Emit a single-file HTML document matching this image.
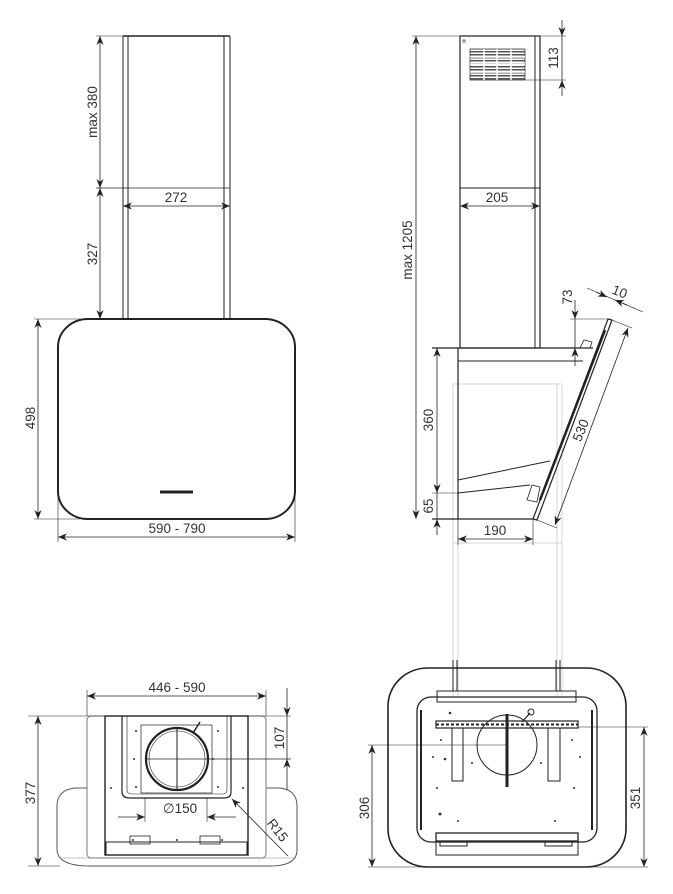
<!DOCTYPE html>
<html><head><meta charset="utf-8"><style>
html,body{margin:0;padding:0;background:#fff;}
svg{display:block;}
text{font-family:"Liberation Sans",sans-serif;font-size:13.5px;fill:#333;}
</style></head><body>
<svg width="673" height="894" viewBox="0 0 673 894" xmlns="http://www.w3.org/2000/svg">
<defs>
<marker id="a" viewBox="0 0 10 10" refX="10" refY="5" markerWidth="9" markerHeight="9" orient="auto-start-reverse" markerUnits="userSpaceOnUse">
<path d="M0,1 L10,5 L0,9 L3,5 Z" fill="#222"/>
</marker>
<pattern id="g" width="3" height="3" patternUnits="userSpaceOnUse"><rect width="3" height="3" fill="#fff"/><rect width="3" height="1.5" fill="#555"/></pattern>
</defs>
<g stroke="#222" fill="none" stroke-width="1">
<!-- LEFT TOP VIEW -->
<line x1="123" y1="36" x2="123" y2="319"/><line x1="128" y1="36" x2="128" y2="319"/>
<line x1="224" y1="36" x2="224" y2="319"/><line x1="230" y1="36" x2="230" y2="319"/>
<line x1="123" y1="36" x2="230" y2="36" stroke-width="1.5"/>
<line x1="96" y1="36" x2="123" y2="36" stroke-width="0.6"/>
<line x1="96" y1="188" x2="230" y2="188" stroke-width="0.8"/>
<rect x="58" y="319" width="237" height="200" rx="30" ry="28" stroke-width="2"/>
<line x1="160" y1="492" x2="193" y2="492" stroke-width="3"/>
<line x1="100" y1="36" x2="100" y2="188" marker-start="url(#a)" marker-end="url(#a)" stroke-width="0.8"/>
<line x1="100" y1="188" x2="100" y2="319" marker-start="url(#a)" marker-end="url(#a)" stroke-width="0.8"/>
<line x1="123" y1="206" x2="230" y2="206" marker-start="url(#a)" marker-end="url(#a)" stroke-width="0.8"/>
<line x1="34" y1="319" x2="80" y2="319" stroke-width="0.6"/>
<line x1="34" y1="519" x2="80" y2="519" stroke-width="0.6"/>
<line x1="38" y1="319" x2="38" y2="519" marker-start="url(#a)" marker-end="url(#a)" stroke-width="0.8"/>
<line x1="58" y1="480" x2="58" y2="542" stroke-width="0.6"/>
<line x1="295" y1="480" x2="295" y2="542" stroke-width="0.6"/>
<line x1="58" y1="537" x2="295" y2="537" marker-start="url(#a)" marker-end="url(#a)" stroke-width="0.8"/>

<!-- RIGHT TOP VIEW -->
<g stroke="#d4d4d4" stroke-width="1">
<line x1="453" y1="384" x2="453" y2="697"/><line x1="458" y1="519" x2="458" y2="697"/>
<line x1="557" y1="384" x2="557" y2="697"/><line x1="562" y1="384" x2="562" y2="697"/>
<line x1="453" y1="384" x2="562" y2="384"/>
<line x1="453" y1="543" x2="562" y2="543"/>
</g>
<rect x="460" y="36" width="80" height="312" stroke-width="1.2"/>
<line x1="535" y1="36" x2="535" y2="348"/>
<line x1="460" y1="188" x2="540" y2="188"/>
<g stroke-width="0.7">
<rect x="470" y="49" width="55" height="31" fill="url(#g)"/>
<line x1="484" y1="49" x2="484" y2="80" stroke="#fff" stroke-width="1.5"/><line x1="497" y1="49" x2="497" y2="80" stroke="#fff" stroke-width="1.5"/><line x1="511" y1="49" x2="511" y2="80" stroke="#fff" stroke-width="1.5"/>
<line x1="470" y1="57" x2="525" y2="57" stroke="#fff" stroke-width="1.5"/><line x1="470" y1="64" x2="525" y2="64" stroke="#fff" stroke-width="1.5"/><line x1="470" y1="72" x2="525" y2="72" stroke="#fff" stroke-width="1.5"/>
</g>
<circle cx="464" cy="41" r="1.2" stroke-width="0.6"/>
<line x1="412" y1="36" x2="566" y2="36" stroke-width="0.6"/>
<line x1="525" y1="80" x2="566" y2="80" stroke-width="0.6"/>
<line x1="562" y1="20" x2="562" y2="36" marker-end="url(#a)" stroke-width="0.8"/>
<line x1="562" y1="96" x2="562" y2="80" marker-end="url(#a)" stroke-width="0.8"/>
<line x1="562" y1="36" x2="562" y2="80" stroke-width="0.8"/>
<line x1="460" y1="206" x2="540" y2="206" marker-start="url(#a)" marker-end="url(#a)" stroke-width="0.8"/>
<line x1="432" y1="348" x2="593" y2="348" stroke-width="1.2"/>
<line x1="458" y1="361" x2="583" y2="361"/>
<line x1="458" y1="348" x2="458" y2="519" stroke-width="1.2"/>
<line x1="458" y1="480" x2="550" y2="461"/>
<line x1="458" y1="493" x2="530" y2="485"/>
<line x1="432" y1="519" x2="533" y2="519" stroke-width="1.2"/>
<path d="M608 319 L612 320 L537 520 L533 519 Z" stroke-width="1.2"/>
<line x1="605" y1="330" x2="540" y2="500" stroke-width="2.5"/>
<path d="M580 348 L584 340 L592 342 L590 348" stroke-width="0.8"/>
<path d="M527 500 L532 485 L540 487 L537 502 Z" stroke-width="0.8"/>
<line x1="416" y1="36" x2="416" y2="519" marker-start="url(#a)" marker-end="url(#a)" stroke-width="0.8"/>
<line x1="432" y1="493" x2="458" y2="493" stroke-width="0.6"/>
<line x1="437" y1="348" x2="437" y2="493" marker-start="url(#a)" marker-end="url(#a)" stroke-width="0.8"/>
<line x1="437" y1="535" x2="437" y2="519" marker-end="url(#a)" stroke-width="0.8"/>
<line x1="437" y1="519" x2="437" y2="493" stroke-width="0.8"/>
<line x1="458" y1="519" x2="458" y2="545" stroke-width="0.6"/>
<line x1="533" y1="519" x2="533" y2="545" stroke-width="0.6"/>
<line x1="458" y1="539" x2="533" y2="539" marker-start="url(#a)" marker-end="url(#a)" stroke-width="0.8"/>
<line x1="570" y1="319" x2="608" y2="319" stroke-width="0.6"/>
<line x1="575" y1="300" x2="575" y2="319" marker-end="url(#a)" stroke-width="0.8"/>
<line x1="575" y1="366" x2="575" y2="348" marker-end="url(#a)" stroke-width="0.8"/>
<line x1="575" y1="319" x2="575" y2="348" stroke-width="0.8"/>
<line x1="612" y1="320" x2="632" y2="328" stroke-width="0.6"/>
<line x1="537" y1="520" x2="557" y2="528" stroke-width="0.6"/>
<line x1="628" y1="328" x2="555" y2="525" marker-start="url(#a)" marker-end="url(#a)" stroke-width="0.8"/>
<line x1="587" y1="288" x2="643" y2="312" stroke-width="0.6"/>
<line x1="596" y1="292" x2="607" y2="297" marker-end="url(#a)" stroke-width="0.8"/>
<line x1="627" y1="305" x2="615" y2="300" marker-end="url(#a)" stroke-width="0.8"/>

<!-- BOTTOM LEFT VIEW -->
<path d="M87 788 L75 788 Q57 790 57 806 L57 850 Q58 866 90 866 L270 866 Q297 866 297 850 L297 806 Q297 790 280 788 L266 788" stroke="#555"/>
<line x1="60" y1="858" x2="294" y2="858" stroke="#888" stroke-width="0.6"/>
<rect x="87" y="716" width="179" height="142" stroke="#777" rx="4"/>
<rect x="105" y="716" width="143" height="139" stroke-width="1.4"/>
<path d="M122 716 L122 792 Q122 798 130 798 L224 798 Q231 798 231 792 L231 716" stroke-width="1.2"/>
<path d="M127 716 L127 790 Q127 794 132 794 L222 794 Q227 794 227 790 L227 716" stroke-width="0.6"/>
<rect x="141" y="725" width="71" height="68" stroke-width="0.7"/>
<circle cx="177" cy="759" r="31" stroke-width="2.2"/>
<circle cx="177" cy="759" r="28" stroke-width="0.6"/>
<line x1="177" y1="728" x2="177" y2="790"/>
<line x1="146" y1="759" x2="291" y2="759" stroke-width="0.7"/>
<line x1="193" y1="733" x2="200" y2="722" stroke-width="1.5"/>
<rect x="106" y="842" width="141" height="13" stroke-width="1"/>
<rect x="130" y="836" width="20" height="8" stroke-width="0.8"/>
<rect x="200" y="836" width="20" height="8" stroke-width="0.8"/>
<line x1="87" y1="690" x2="87" y2="716" stroke-width="0.6"/>
<line x1="266" y1="690" x2="266" y2="716" stroke-width="0.6"/>
<line x1="87" y1="696" x2="266" y2="696" marker-start="url(#a)" marker-end="url(#a)" stroke-width="0.8"/>
<line x1="28" y1="716" x2="291" y2="716" stroke-width="0.6"/>
<line x1="28" y1="866" x2="60" y2="866" stroke-width="0.6"/>
<line x1="38" y1="716" x2="38" y2="866" marker-start="url(#a)" marker-end="url(#a)" stroke-width="0.8"/>
<line x1="287" y1="688" x2="287" y2="716" marker-end="url(#a)" stroke-width="0.8"/>
<line x1="287" y1="790" x2="287" y2="759" marker-end="url(#a)" stroke-width="0.8"/>
<line x1="287" y1="716" x2="287" y2="759" stroke-width="0.8"/>
<line x1="145" y1="798" x2="145" y2="822" stroke-width="0.6"/>
<line x1="207" y1="798" x2="207" y2="822" stroke-width="0.6"/>
<line x1="118" y1="817" x2="145" y2="817" marker-end="url(#a)" stroke-width="0.8"/>
<line x1="236" y1="817" x2="207" y2="817" marker-end="url(#a)" stroke-width="0.8"/>
<line x1="288" y1="856" x2="232" y2="799" marker-end="url(#a)" stroke-width="0.8"/>

<!-- BOTTOM RIGHT VIEW -->
<rect x="388" y="668" width="238" height="199" rx="40" ry="38" stroke-width="1.6"/>
<rect x="417" y="697" width="180" height="145" rx="14" stroke-width="1.3"/>
<line x1="453" y1="660" x2="453" y2="691"/><line x1="457" y1="660" x2="457" y2="691"/>
<line x1="556" y1="660" x2="556" y2="691"/><line x1="560" y1="660" x2="560" y2="691"/>
<rect x="437" y="691" width="139" height="11"/>
<line x1="437" y1="697" x2="576" y2="697"/>
<line x1="421" y1="710" x2="421" y2="830" stroke-width="2"/>
<line x1="592" y1="710" x2="592" y2="830" stroke-width="2"/>
<circle cx="507" cy="745" r="30"/>
<rect x="436" y="721" width="142" height="7" stroke-width="1.2"/>
<line x1="436" y1="724.5" x2="578" y2="724.5" stroke-dasharray="3 2" stroke-width="2"/>
<line x1="507" y1="714" x2="507" y2="787" stroke-width="3"/>
<line x1="522" y1="722" x2="530" y2="713" stroke-width="1.2"/>
<circle cx="531" cy="712" r="3"/>
<rect x="452" y="728" width="11" height="53"/>
<rect x="548" y="728" width="12" height="53"/>
<rect x="436" y="833" width="142" height="8" stroke-width="1.3"/>
<rect x="436" y="841" width="142" height="14"/>
<rect x="440" y="841" width="27" height="5"/><rect x="545" y="841" width="27" height="5"/>
<line x1="368" y1="745" x2="507" y2="745" stroke-width="0.6"/>
<line x1="578" y1="727" x2="648" y2="727" stroke-width="0.6"/>
<line x1="368" y1="867" x2="648" y2="867" stroke-width="0.6"/>
<line x1="372" y1="745" x2="372" y2="867" marker-start="url(#a)" marker-end="url(#a)" stroke-width="0.8"/>
<line x1="644" y1="727" x2="644" y2="867" marker-start="url(#a)" marker-end="url(#a)" stroke-width="0.8"/>
</g>
<g fill="#333" stroke="none">
<circle cx="450" cy="713" r="1.3"/><circle cx="441" cy="740" r="1"/><circle cx="433" cy="757" r="1"/><circle cx="445" cy="759" r="1.3"/>
<circle cx="472" cy="763" r="1"/><circle cx="541" cy="763" r="1"/><circle cx="572" cy="740" r="1"/><circle cx="580" cy="757" r="1"/>
<circle cx="437" cy="788" r="1"/><circle cx="574" cy="788" r="1"/><circle cx="440" cy="814" r="1.5"/><circle cx="458" cy="821" r="1"/><circle cx="555" cy="821" r="1"/>
<circle cx="136" cy="731" r="1"/><circle cx="218" cy="731" r="1"/><circle cx="136" cy="787" r="1"/><circle cx="218" cy="787" r="1"/>
<circle cx="111" cy="788" r="1"/><circle cx="243" cy="788" r="1"/><circle cx="134" cy="759" r="1"/><circle cx="213" cy="759" r="1"/>
<circle cx="133" cy="840" r="1"/><circle cx="177" cy="840" r="1"/><circle cx="222" cy="840" r="1"/>
</g>
<text x="176" y="202" text-anchor="middle">272</text>
<text x="177" y="533" text-anchor="middle">590 - 790</text>
<text transform="translate(97,112) rotate(-90)" text-anchor="middle">max 380</text>
<text transform="translate(97,254) rotate(-90)" text-anchor="middle">327</text>
<text transform="translate(35,418) rotate(-90)" text-anchor="middle">498</text>
<text x="497" y="202" text-anchor="middle">205</text>
<text transform="translate(558,58) rotate(-90)" text-anchor="middle">113</text>
<text transform="translate(412,250) rotate(-90)" text-anchor="middle">max 1205</text>
<text transform="translate(433,420) rotate(-90)" text-anchor="middle">360</text>
<text transform="translate(433,506) rotate(-90)" text-anchor="middle">65</text>
<text x="495" y="535" text-anchor="middle">190</text>
<text transform="translate(572,297) rotate(-90)" text-anchor="middle">73</text>
<text transform="translate(618,296) rotate(22)" text-anchor="middle">10</text>
<text transform="translate(585,432) rotate(-68)" text-anchor="middle">530</text>
<text x="177" y="692" text-anchor="middle">446 - 590</text>
<text transform="translate(284,738) rotate(-90)" text-anchor="middle">107</text>
<text x="180" y="813" text-anchor="middle">∅150</text>
<text transform="translate(274,833) rotate(52)" text-anchor="middle">R15</text>
<text transform="translate(35,793) rotate(-90)" text-anchor="middle">377</text>
<text transform="translate(369,808) rotate(-90)" text-anchor="middle">306</text>
<text transform="translate(640,798) rotate(-90)" text-anchor="middle">351</text>
</svg>
</body></html>
